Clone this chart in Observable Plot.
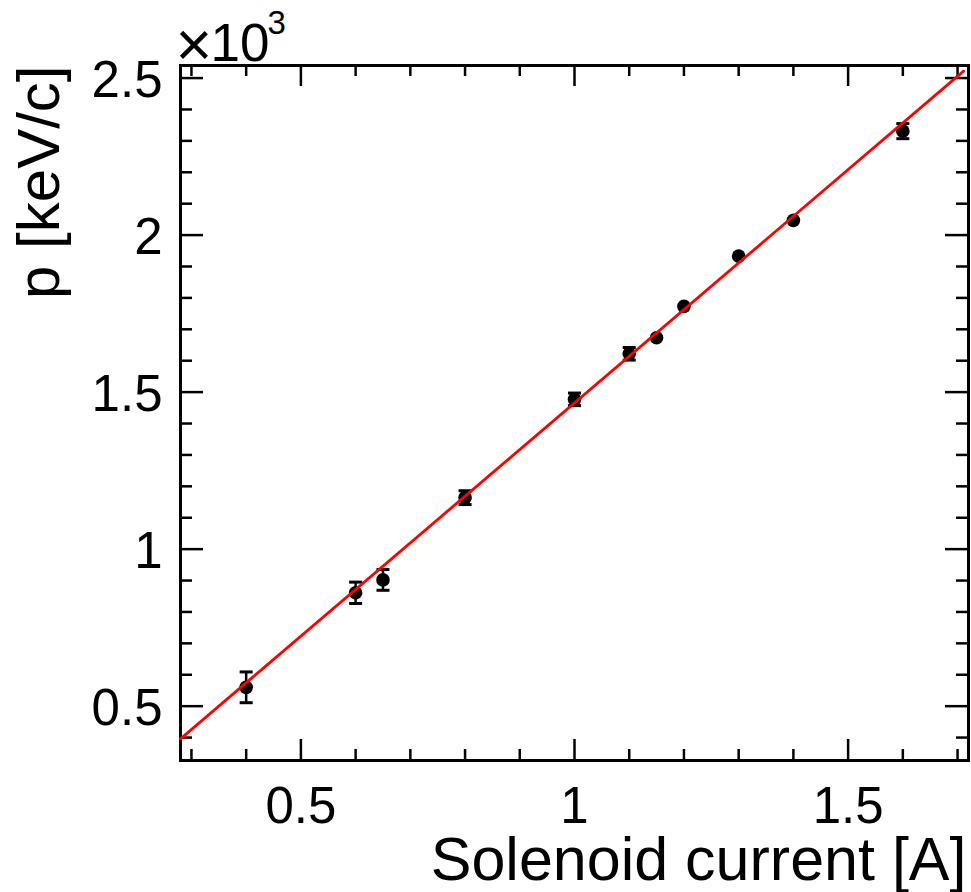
<!DOCTYPE html>
<html><head><meta charset="utf-8">
<script src="https://cdn.jsdelivr.net/npm/d3@7"></script>
<script src="https://cdn.jsdelivr.net/npm/@observablehq/plot@0.6"></script>
<style>body{margin:0;background:#fff} svg{display:block}</style>
</head><body><div id="chart"></div>
<script>
// Data
const current = [0.4, 0.6, 0.65, 0.8, 1.0, 1.1, 1.15, 1.2, 1.3, 1.4, 1.6];
const momentum = [560, 861, 902, 1164, 1477, 1622, 1673, 1773, 1933, 2047, 2331];
const momentumErr = [49, 34, 33, 22, 20, 20, 0, 0, 0, 0, 24];
// Linear fit drawn in red (end points)
const fitCurrent = [0.28, 1.711];
const fitMomentum = [396, 2522];
// Axes
const xMajorTicks = [0.5, 1, 1.5];
const xTickLabels = ["0.5", "1", "1.5"];
const xMinorTicks = [0.3, 0.4, 0.6, 0.7, 0.8, 0.9, 1.1, 1.2, 1.3, 1.4, 1.6, 1.7];
const yMajorTicks = [500, 1000, 1500, 2000, 2500];
const yTickLabels = ["0.5", "1", "1.5", "2", "2.5"];
const yMinorTicks = [400, 600, 700, 800, 900, 1100, 1200, 1300, 1400, 1600, 1700, 1800, 1900, 2100, 2200, 2300, 2400];
const xTitle = "Solenoid current [A]";
const yTitle = "p [keV/c]";
const exponentTimes = "×";
const exponentBase = "10";
const exponentPower = "3";

const W = 971, H = 892, mL = 180, mR = 3, mT = 65, mB = 132;
const innerW = W - mL - mR, innerH = H - mT - mB;

const pts = current.map((c, i) => ({c, p: momentum[i], e: momentumErr[i]}));
const errPts = pts.filter(d => d.e > 0);
const fitPts = fitCurrent.map((c, i) => ({c, p: fitMomentum[i]}));
const xLab = xMajorTicks.map((v, i) => ({v, t: xTickLabels[i]}));
const yLab = yMajorTicks.map((v, i) => ({v, t: yTickLabels[i]}));

const capSymbol = {draw(ctx) { ctx.moveTo(-6.5, 0); ctx.lineTo(6.5, 0); }};

const font = "'Liberation Sans', Arial, Helvetica, sans-serif";

const chart = Plot.plot({
  width: W, height: H,
  marginLeft: mL, marginRight: mR, marginTop: mT, marginBottom: mB,
  style: {fontFamily: font, background: "white", overflow: "visible"},
  x: {domain: [0.28, 1.72], axis: null},
  y: {domain: [327, 2540], axis: null},
  marks: [
    // ticks: bottom / top
    Plot.tickX(xMajorTicks, {x: d => d, insetTop: innerH - 21, stroke: "black", strokeWidth: 2.5}),
    Plot.tickX(xMinorTicks, {x: d => d, insetTop: innerH - 11, stroke: "black", strokeWidth: 2.5}),
    Plot.tickX(xMajorTicks, {x: d => d, insetBottom: innerH - 21, stroke: "black", strokeWidth: 2.5}),
    Plot.tickX(xMinorTicks, {x: d => d, insetBottom: innerH - 11, stroke: "black", strokeWidth: 2.5}),
    // ticks: left / right
    Plot.tickY(yMajorTicks, {y: d => d, insetRight: innerW - 23, stroke: "black", strokeWidth: 2.5}),
    Plot.tickY(yMinorTicks, {y: d => d, insetRight: innerW - 12, stroke: "black", strokeWidth: 2.5}),
    Plot.tickY(yMajorTicks, {y: d => d, insetLeft: innerW - 23, stroke: "black", strokeWidth: 2.5}),
    Plot.tickY(yMinorTicks, {y: d => d, insetLeft: innerW - 12, stroke: "black", strokeWidth: 2.5}),
    Plot.frame({stroke: "black", strokeWidth: 3}),
    // tick labels
    Plot.text(xLab, {x: "v", text: "t", frameAnchor: "bottom", lineAnchor: "middle", dy: 46, fontSize: 51, fill: "black"}),
    Plot.text(yLab, {y: "v", text: "t", frameAnchor: "left", textAnchor: "end", lineAnchor: "middle", dx: -18, dy: 3, fontSize: 51, fill: "black"}),
    // exponent
    Plot.text([exponentTimes], {text: d => d, frameAnchor: "top-left", textAnchor: "start", lineAnchor: "bottom", dx: -5, dy: 0, fontSize: 63, fill: "black"}),
    Plot.text([exponentBase], {text: d => d, frameAnchor: "top-left", textAnchor: "start", lineAnchor: "bottom", dx: 30, dy: -5, fontSize: 53, fill: "black"}),
    Plot.text([exponentPower], {text: d => d, frameAnchor: "top-left", textAnchor: "start", lineAnchor: "bottom", dx: 87, dy: -32, fontSize: 33, fill: "black"}),
    // axis titles
    Plot.text([xTitle], {text: d => d, frameAnchor: "bottom-right", textAnchor: "end", lineAnchor: "bottom", dx: -2, dy: 119, fontSize: 61, fill: "black"}),
    Plot.text([yTitle], {text: d => d, frameAnchor: "top-left", textAnchor: "end", lineAnchor: "bottom", rotate: -90, dx: -122, dy: 0, fontSize: 60, fill: "black"}),
    // error bars
    Plot.ruleX(errPts, {x: "c", y1: d => d.p - d.e, y2: d => d.p + d.e, stroke: "black", strokeWidth: 2.5}),
    Plot.dot(errPts, {x: "c", y: d => d.p + d.e, symbol: capSymbol, r: 6, fill: "none", stroke: "black", strokeWidth: 3}),
    Plot.dot(errPts, {x: "c", y: d => d.p - d.e, symbol: capSymbol, r: 6, fill: "none", stroke: "black", strokeWidth: 3}),
    // markers
    Plot.dot(pts, {x: "c", y: "p", r: 6.8, fill: "black", stroke: "none"}),
    // fit line
    Plot.line(fitPts, {x: "c", y: "p", stroke: "#ff0000", strokeWidth: 2.8})
  ]
});
document.getElementById("chart").appendChild(chart);
</script>
</body></html>
